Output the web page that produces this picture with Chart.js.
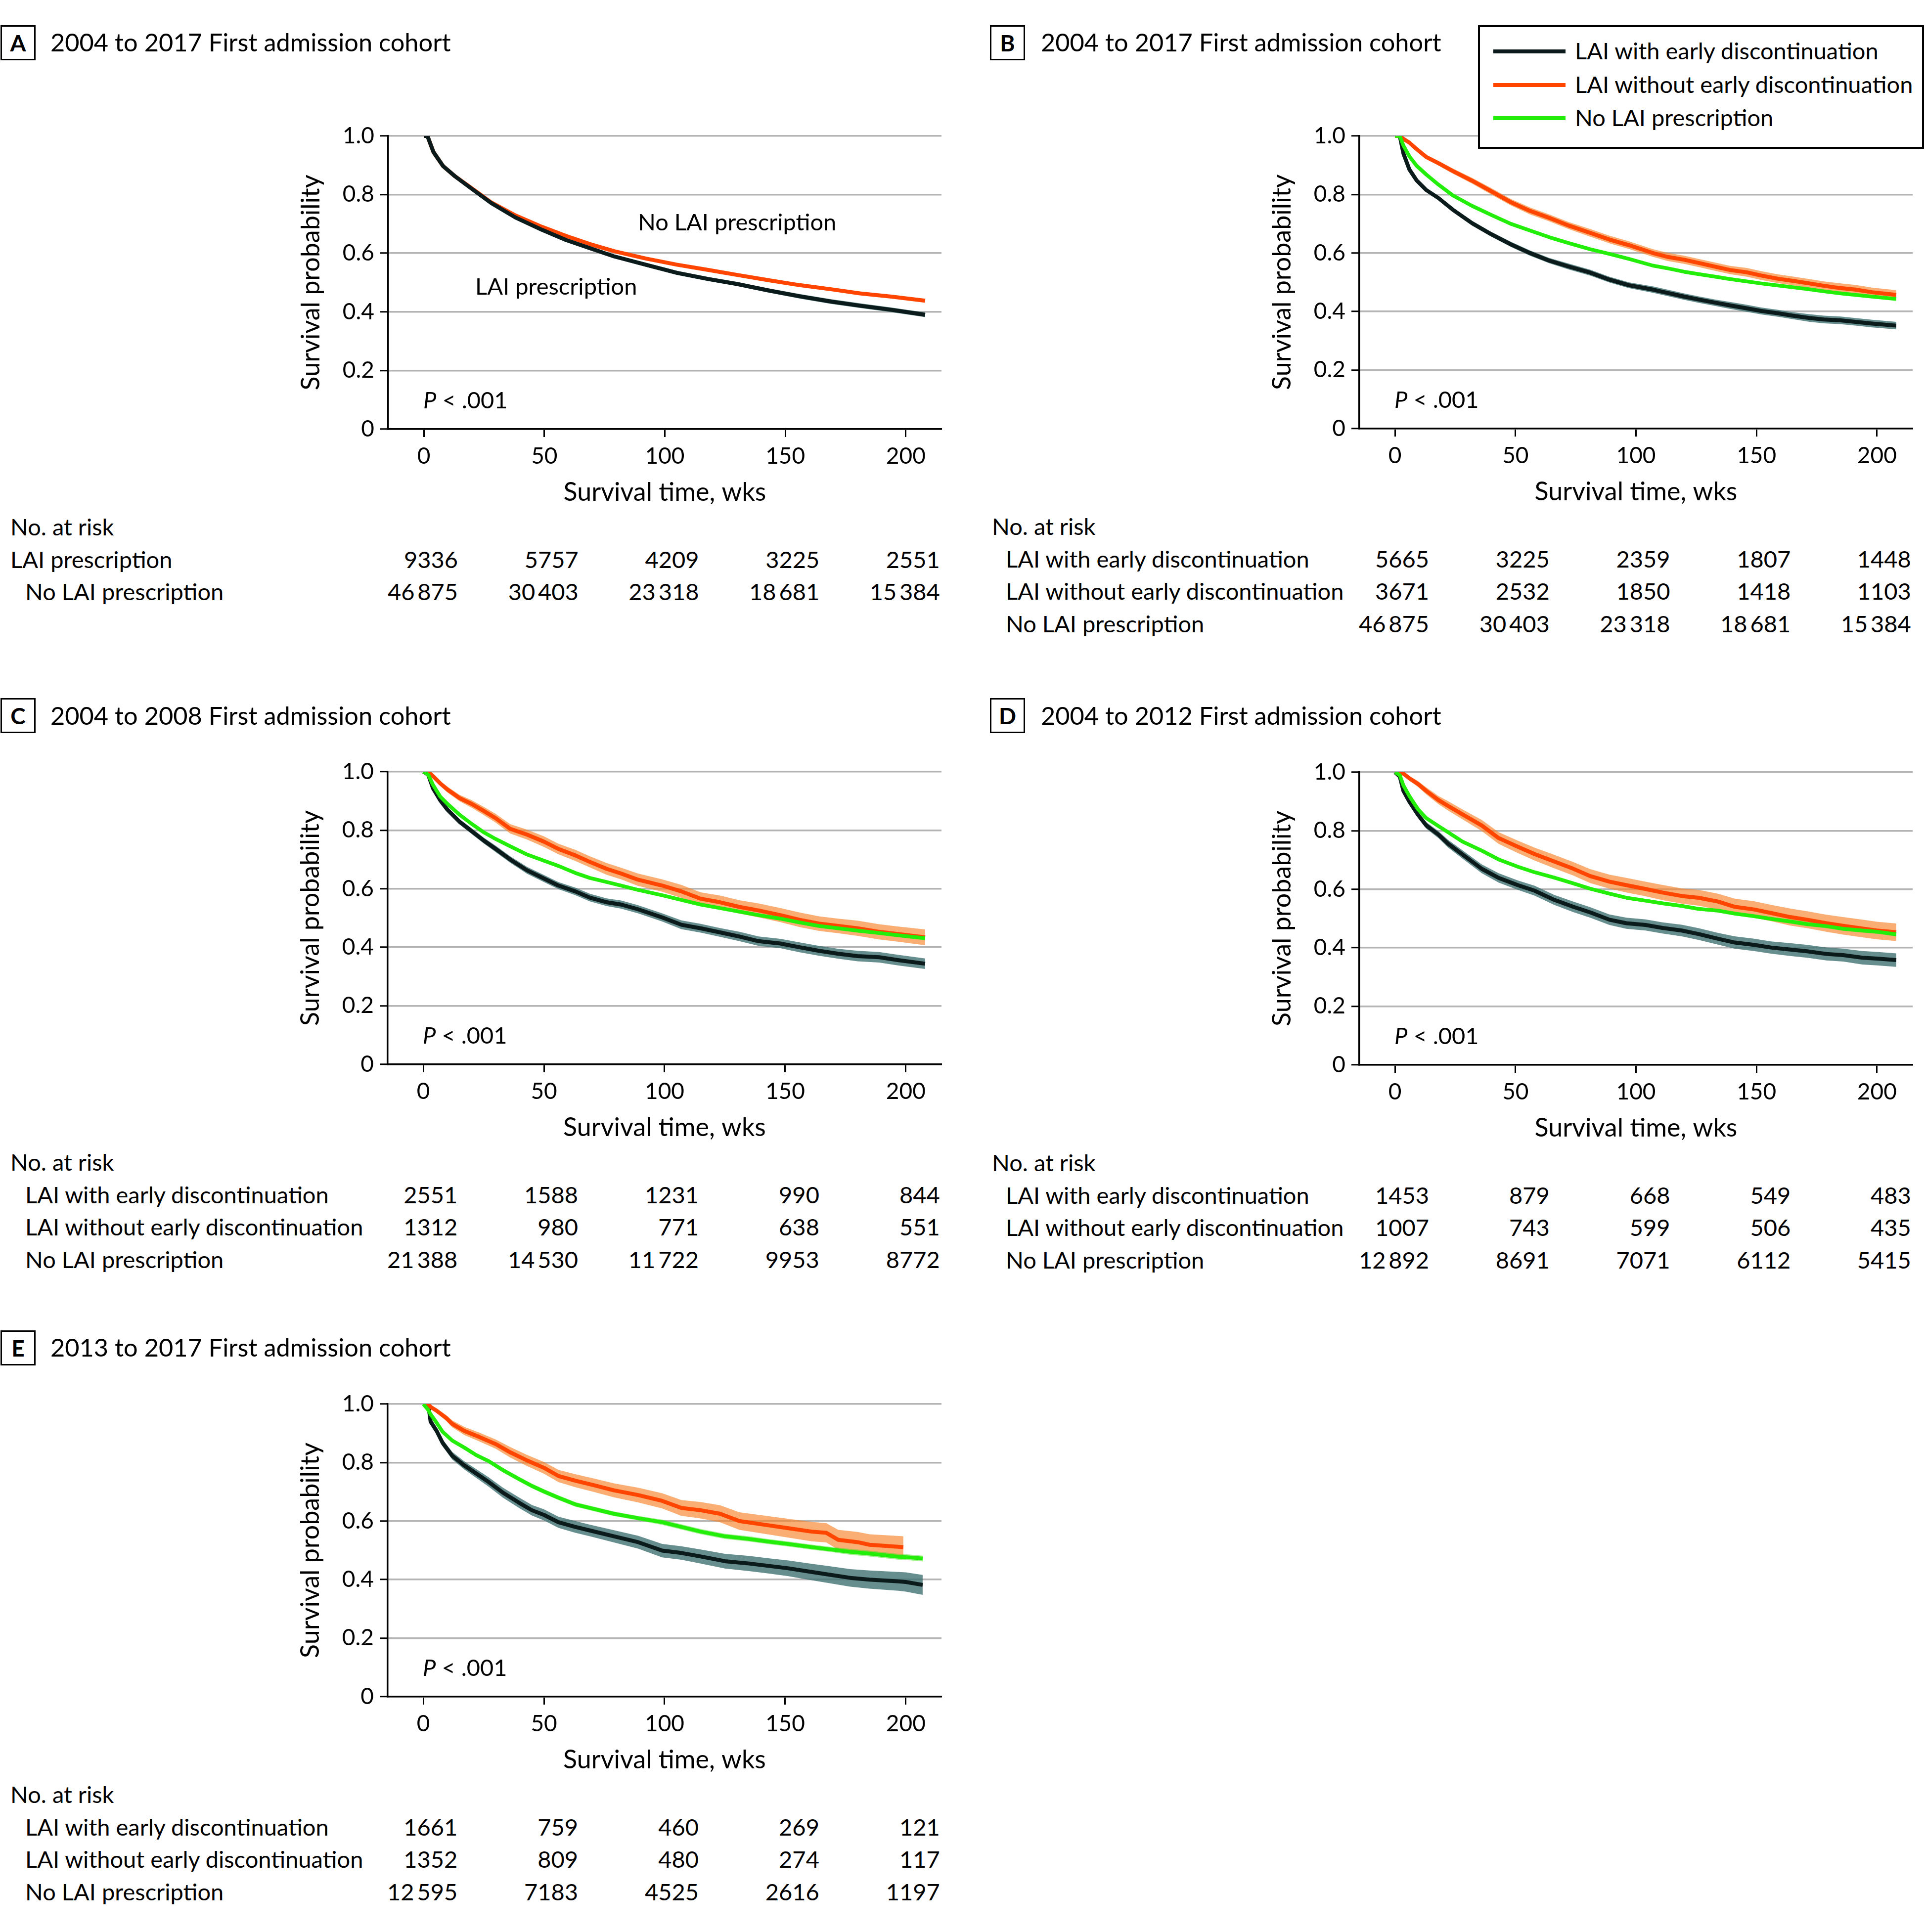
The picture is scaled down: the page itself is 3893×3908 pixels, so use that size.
<!DOCTYPE html>
<html><head><meta charset="utf-8">
<script src="https://cdn.jsdelivr.net/npm/chart.js"></script>
<style>
html,body{margin:0;padding:0;background:#fff;}
body{width:3893px;height:3908px;position:relative;overflow:hidden;font-family:Lato,"Open Sans",sans-serif;color:#000;}
.t{position:absolute;white-space:nowrap;line-height:1;z-index:5;}
.box{position:absolute;border:3px solid #000;box-sizing:border-box;display:flex;align-items:center;justify-content:center;font-weight:700;font-size:46px;line-height:1;background:#fff;z-index:5;}
.wrap{position:absolute;}
.legend{position:absolute;border:4px solid #000;box-sizing:border-box;background:#fff;z-index:6;}
.lline{position:absolute;height:8px;z-index:7;}
</style></head><body>
<script>
// ---------- tick values ----------
const X_TICKS = [0, 50, 100, 150, 200];
const Y_TICKS = [0, 0.2, 0.4, 0.6, 0.8, 1.0];

// ---------- Panel A ----------
const A_weeks  = [0,1.5,4,8,13,21,28,38,49,59,69,79,92,105,118,130,143,156,169,181,194,208];
const A_lai    = [1,1,0.945,0.897,0.862,0.813,0.771,0.722,0.680,0.645,0.617,0.589,0.561,0.533,0.512,0.495,0.473,0.453,0.435,0.421,0.407,0.390];
const A_laiCI  = [0,0,.003,.004,.004,.005,.005,.005,.006,.006,.006,.006,.007,.007,.007,.007,.007,.008,.008,.008,.008,.008];
const A_noLai  = [1,1,0.945,0.897,0.862,0.815,0.773,0.729,0.690,0.659,0.631,0.607,0.582,0.561,0.543,0.526,0.508,0.491,0.477,0.463,0.452,0.438];
const A_riskLai   = [9336, 5757, 4209, 3225, 2551];
const A_riskNoLai = [46875, 30403, 23318, 18681, 15384];

// ---------- Panel B ----------
const B_weeks   = [0,2,3.5,6,9,13,18,24,32,40,48,56,64,72,81,89,97,107,113,120,126,133,139,146,152,159,165,172,178,185,191,198,208];
const B_early   = [1,1,0.94,0.885,0.848,0.815,0.788,0.748,0.702,0.664,0.630,0.600,0.574,0.554,0.533,0.509,0.490,0.475,0.464,0.451,0.441,0.430,0.421,0.411,0.402,0.394,0.386,0.378,0.373,0.370,0.365,0.359,0.352];
const B_earlyCI = [0,0,.004,.005,.006,.006,.007,.007,.008,.008,.009,.009,.009,.010,.010,.010,.010,.011,.011,.011,.011,.011,.012,.012,.012,.012,.012,.013,.013,.013,.013,.013,.013];
const B_noEarly   = [1,1,0.99,0.977,0.955,0.928,0.907,0.880,0.847,0.811,0.774,0.744,0.720,0.694,0.669,0.646,0.627,0.600,0.587,0.577,0.566,0.553,0.542,0.534,0.523,0.512,0.505,0.496,0.488,0.480,0.475,0.466,0.457];
const B_noEarlyCI = [0,0,.003,.005,.006,.007,.008,.009,.010,.011,.011,.012,.012,.012,.013,.013,.013,.013,.014,.014,.014,.014,.014,.015,.015,.015,.015,.015,.015,.016,.016,.016,.016];
const B_noLai   = [1,1,0.967,0.930,0.898,0.868,0.834,0.797,0.761,0.730,0.700,0.677,0.654,0.634,0.613,0.597,0.580,0.557,0.548,0.536,0.528,0.519,0.511,0.503,0.496,0.489,0.483,0.476,0.469,0.462,0.457,0.451,0.443];
const B_noLaiCI = [0,0,.002,.002,.003,.003,.003,.003,.003,.003,.003,.003,.003,.003,.003,.003,.003,.004,.004,.004,.004,.004,.004,.004,.004,.004,.004,.004,.004,.004,.004,.004,.004];
const B_riskEarly   = [5665, 3225, 2359, 1807, 1448];
const B_riskNoEarly = [3671, 2532, 1850, 1418, 1103];
const B_riskNoLai   = [46875, 30403, 23318, 18681, 15384];

// ---------- Panel C ----------
const C_weeks   = [0,2,4,7,10,15,20,25,30,36,43,50,56,63,69,76,82,89,99,107,115,123,131,139,148,156,164,172,180,189,197,208];
const C_early   = [1,0.99,0.943,0.902,0.870,0.829,0.797,0.765,0.736,0.700,0.663,0.635,0.611,0.591,0.570,0.554,0.546,0.530,0.502,0.477,0.465,0.451,0.437,0.421,0.413,0.400,0.388,0.378,0.370,0.366,0.356,0.344];
const C_earlyCI = [0,0,.005,.007,.008,.009,.010,.010,.011,.011,.012,.012,.012,.013,.013,.013,.014,.014,.014,.015,.015,.015,.016,.016,.016,.017,.017,.017,.018,.018,.018,.018];
const C_noEarly   = [1,1,0.985,0.960,0.939,0.910,0.890,0.866,0.841,0.805,0.785,0.761,0.736,0.714,0.692,0.668,0.652,0.631,0.611,0.591,0.566,0.554,0.538,0.526,0.510,0.494,0.481,0.473,0.465,0.453,0.445,0.434];
const C_noEarlyCI = [0,0,.006,.008,.010,.011,.013,.014,.015,.016,.017,.018,.018,.019,.019,.020,.020,.021,.021,.022,.022,.023,.023,.024,.024,.025,.025,.025,.026,.026,.026,.027];
const C_noLai   = [1,0.99,0.955,0.915,0.890,0.853,0.822,0.793,0.770,0.745,0.717,0.696,0.678,0.654,0.637,0.623,0.611,0.596,0.578,0.562,0.546,0.534,0.522,0.510,0.498,0.485,0.473,0.465,0.457,0.449,0.441,0.431];
const C_noLaiCI = [0,.002,.003,.003,.004,.004,.004,.004,.004,.004,.004,.005,.005,.005,.005,.005,.005,.005,.005,.005,.005,.005,.005,.006,.006,.006,.006,.006,.006,.006,.006,.006];
const C_riskEarly   = [2551, 1588, 1231, 990, 844];
const C_riskNoEarly = [1312, 980, 771, 638, 551];
const C_riskNoLai   = [21388, 14530, 11722, 9953, 8772];

// ---------- Panel D ----------
const D_weeks   = [0,2,3.5,6,9.5,13,18,22,28,36,43,51,58,66,74,81,89,96,104,111,119,126,134,141,149,156,164,171,179,186,194,200,208];
const D_early   = [1,0.985,0.936,0.899,0.855,0.818,0.787,0.756,0.719,0.670,0.639,0.614,0.595,0.564,0.540,0.521,0.496,0.484,0.478,0.468,0.459,0.447,0.431,0.418,0.410,0.401,0.394,0.388,0.379,0.375,0.366,0.363,0.358];
const D_earlyCI = [0,0,.006,.008,.010,.011,.012,.013,.014,.015,.016,.016,.017,.017,.018,.018,.018,.019,.019,.019,.020,.020,.020,.021,.021,.021,.022,.022,.022,.022,.023,.023,.023];
const D_noEarly   = [1,1,0.995,0.979,0.960,0.936,0.905,0.885,0.856,0.818,0.775,0.745,0.720,0.695,0.670,0.645,0.626,0.614,0.601,0.589,0.577,0.571,0.558,0.540,0.531,0.519,0.505,0.496,0.484,0.475,0.466,0.459,0.453];
const D_noEarlyCI = [0,0,.004,.008,.010,.012,.014,.016,.017,.019,.020,.021,.022,.023,.023,.024,.024,.025,.025,.026,.026,.027,.027,.028,.028,.028,.029,.029,.029,.030,.030,.030,.030];
const D_noLai   = [1,0.99,0.955,0.918,0.874,0.843,0.816,0.795,0.763,0.732,0.702,0.677,0.658,0.640,0.620,0.602,0.585,0.571,0.561,0.552,0.543,0.533,0.527,0.517,0.508,0.499,0.490,0.481,0.474,0.465,0.459,0.455,0.446];
const D_noLaiCI = [0,.002,.003,.004,.004,.004,.005,.005,.005,.005,.005,.005,.005,.005,.006,.006,.006,.006,.006,.006,.006,.006,.006,.006,.006,.007,.007,.007,.007,.007,.007,.007,.007];
const D_riskEarly   = [1453, 879, 668, 549, 483];
const D_riskNoEarly = [1007, 743, 599, 506, 435];
const D_riskNoLai   = [12892, 8691, 7071, 6112, 5415];

// ---------- Panel E ----------
const E_weeks   = [0,2,3,5.5,8,12,17,22,27,33,40,45,50,56,63,69,79,89,99,107,115,125,135,143,151,161,169,177,185,197,200,207];
const E_early   = [1,1,0.94,0.908,0.867,0.823,0.790,0.762,0.734,0.697,0.661,0.637,0.621,0.596,0.580,0.568,0.548,0.528,0.499,0.491,0.479,0.463,0.455,0.447,0.439,0.426,0.416,0.406,0.400,0.394,0.392,0.382];
const E_earlyCI = [0,0,.008,.010,.012,.013,.014,.015,.016,.017,.018,.018,.019,.019,.020,.020,.021,.022,.023,.023,.024,.025,.026,.026,.027,.028,.029,.030,.031,.032,.033,.034];
const E_noLai   = [1,0.98,0.965,0.936,0.905,0.875,0.851,0.825,0.805,0.774,0.742,0.720,0.701,0.680,0.657,0.645,0.625,0.610,0.596,0.580,0.564,0.548,0.539,0.530,0.522,0.511,0.503,0.495,0.489,0.478,0.477,0.472];
const E_noLaiCI = [0,.002,.004,.005,.006,.006,.007,.007,.007,.008,.008,.008,.008,.008,.008,.008,.008,.008,.009,.009,.009,.009,.009,.009,.009,.009,.009,.010,.010,.010,.010,.010];
const E_noEarlyWeeks = [0,2,3,5.5,9.5,12,17,23,30,36,43,50,56,63,71,79,89,99,107,115,123,131,141,151,161,167,172,180,185,199];
const E_noEarly   = [1,1,0.99,0.977,0.952,0.932,0.908,0.888,0.863,0.835,0.807,0.782,0.754,0.738,0.722,0.705,0.689,0.669,0.645,0.637,0.625,0.600,0.588,0.576,0.564,0.560,0.536,0.528,0.519,0.511];
const E_noEarlyCI = [0,0,.004,.008,.010,.012,.014,.015,.016,.018,.019,.020,.021,.022,.023,.024,.025,.026,.027,.028,.029,.030,.031,.032,.033,.033,.034,.035,.036,.037];
const E_riskEarly   = [1661, 759, 460, 269, 121];
const E_riskNoEarly = [1352, 809, 480, 274, 117];
const E_riskNoLai   = [12595, 7183, 4525, 2616, 1197];

// ---------- labels ----------
const LBL_EARLY = 'LAI with early discontinuation';
const LBL_NOEARLY = 'LAI without early discontinuation';
const LBL_NOLAI = 'No LAI prescription';
const LBL_LAI = 'LAI prescription';

// ---------- styles ----------
const STY = {
  black:  {line:'#0b1a1a', band:'rgba(60,110,110,0.78)', width:8,   order:3, bandOrder:12},
  orange: {line:'#ff4500', band:'rgba(248,130,40,0.65)', width:8,   order:2, bandOrder:11},
  green:  {line:'#22ee0a', band:'rgba(60,220,20,0.45)',  width:7.5, order:1, bandOrder:10},
};

const PANELS = [
  {id:'A', title:'2004 to 2017 First admission cohort', L:785, R:1904, T:275, B:868,
   boxX:1, boxTop:51, titleX:102, titleYc:87, riskX:21, rowX:51,
   series:[
     {w:A_weeks, v:A_lai, ci:A_laiCI, s:'black', order:0},
     {w:A_weeks, v:A_noLai, ci:null, s:'orange'}],
   risk:[{label:LBL_LAI, vals:A_riskLai, x:21}, {label:LBL_NOLAI, vals:A_riskNoLai}],
   notes:[{html:LBL_NOLAI, x:1290, yc:450}, {html:LBL_LAI, x:961, yc:580}]},
  {id:'B', title:'2004 to 2017 First admission cohort', L:2749, R:3868, T:275, B:867,
   boxX:2002, boxTop:51, titleX:2105, titleYc:87, riskX:2006, rowX:2034, legend:true,
   series:[
     {w:B_weeks, v:B_early, ci:B_earlyCI, s:'black'},
     {w:B_weeks, v:B_noEarly, ci:B_noEarlyCI, s:'orange'},
     {w:B_weeks, v:B_noLai, ci:B_noLaiCI, s:'green'}],
   risk:[{label:LBL_EARLY, vals:B_riskEarly}, {label:LBL_NOEARLY, vals:B_riskNoEarly}, {label:LBL_NOLAI, vals:B_riskNoLai}]},
  {id:'C', title:'2004 to 2008 First admission cohort', L:784, R:1904, T:1561, B:2153,
   boxX:1, boxTop:1412, titleX:102, titleYc:1449, riskX:21, rowX:51,
   series:[
     {w:C_weeks, v:C_early, ci:C_earlyCI, s:'black'},
     {w:C_weeks, v:C_noEarly, ci:C_noEarlyCI, s:'orange'},
     {w:C_weeks, v:C_noLai, ci:C_noLaiCI, s:'green'}],
   risk:[{label:LBL_EARLY, vals:C_riskEarly}, {label:LBL_NOEARLY, vals:C_riskNoEarly}, {label:LBL_NOLAI, vals:C_riskNoLai}]},
  {id:'D', title:'2004 to 2012 First admission cohort', L:2749, R:3868, T:1562, B:2154,
   boxX:2002, boxTop:1412, titleX:2105, titleYc:1449, riskX:2006, rowX:2034,
   series:[
     {w:D_weeks, v:D_early, ci:D_earlyCI, s:'black'},
     {w:D_weeks, v:D_noEarly, ci:D_noEarlyCI, s:'orange'},
     {w:D_weeks, v:D_noLai, ci:D_noLaiCI, s:'green'}],
   risk:[{label:LBL_EARLY, vals:D_riskEarly}, {label:LBL_NOEARLY, vals:D_riskNoEarly}, {label:LBL_NOLAI, vals:D_riskNoLai}]},
  {id:'E', title:'2013 to 2017 First admission cohort', L:784, R:1904, T:2840, B:3432,
   boxX:1, boxTop:2691, titleX:102, titleYc:2727, riskX:21, rowX:51,
   series:[
     {w:E_weeks, v:E_early, ci:E_earlyCI, s:'black'},
     {w:E_noEarlyWeeks, v:E_noEarly, ci:E_noEarlyCI, s:'orange'},
     {w:E_weeks, v:E_noLai, ci:E_noLaiCI, s:'green'}],
   risk:[{label:LBL_EARLY, vals:E_riskEarly}, {label:LBL_NOEARLY, vals:E_riskNoEarly}, {label:LBL_NOLAI, vals:E_riskNoLai}]},
];

Chart.defaults.font.family = 'Lato';
Chart.defaults.color = '#000';

function fmt(n){
  const s = String(n);
  return n >= 10000 ? s.slice(0, s.length-3) + '\u2009' + s.slice(-3) : s;
}

function text(str, x, yc, size, opt){
  opt = opt || {};
  const d = document.createElement('div');
  d.className = 't';
  d.style.fontSize = size + 'px';
  d.style.top = (yc - 0.529*size) + 'px';
  d.style.left = x + 'px';
  if (opt.right) d.style.transform = 'translateX(-100%)';
  if (opt.weight) d.style.fontWeight = opt.weight;
  d.innerHTML = str;
  document.body.appendChild(d);
  return d;
}

function buildDatasets(p){
  const ds = [];
  p.series.forEach(se => {
    if (!se.ci) return;
    const st = STY[se.s];
    ds.push({data: se.w.map((w,i)=>({x:w, y:se.v[i]+se.ci[i]})), borderWidth:0, pointRadius:0, fill:false, order:st.bandOrder, backgroundColor:st.band, borderColor:'rgba(0,0,0,0)'});
    ds.push({data: se.w.map((w,i)=>({x:w, y:se.v[i]-se.ci[i]})), borderWidth:0, pointRadius:0, fill:'-1', order:st.bandOrder, backgroundColor:st.band, borderColor:'rgba(0,0,0,0)'});
  });
  p.series.forEach(se => {
    const st = STY[se.s];
    ds.push({data: se.w.map((w,i)=>({x:w, y:se.v[i]})), borderWidth:st.width, borderColor:st.line, pointRadius:0, fill:false,
             order: se.order !== undefined ? se.order : st.order, tension:0});
  });
  return ds;
}

function config(p){
  return {
    type:'line',
    data:{datasets: buildDatasets(p)},
    options:{
      responsive:false, maintainAspectRatio:false, animation:false, devicePixelRatio:1,
      layout:{padding:{left:0, top:40, right:10, bottom:0}},
      plugins:{legend:{display:false}, tooltip:{enabled:false}},
      elements:{point:{radius:0}, line:{tension:0, borderJoinStyle:'round'}},
      scales:{
        x:{type:'linear', min:-14.8, max:214.8,
          afterBuildTicks: s => { s.ticks = X_TICKS.map(v=>({value:v})); },
          afterFit: s => { s.height = 160; },
          grid:{drawOnChartArea:false, drawTicks:true, tickLength:16, tickWidth:3, tickColor:'#000'},
          border:{display:true, color:'#000', width:3.5},
          ticks:{color:'#000', font:{size:46}, padding:12, maxRotation:0, autoSkip:false, callback: v => String(v)},
          title:{display:true, text:'Survival time, wks', color:'#000', font:{size:52}, padding:{top:0, bottom:1}}
        },
        y:{type:'linear', min:0, max:1,
          afterBuildTicks: s => { s.ticks = Y_TICKS.map(v=>({value:v})); },
          afterFit: s => { s.width = 200; },
          grid:{color:'#b4b4b4', lineWidth:3.5, drawTicks:true, tickLength:16, tickWidth:3, tickColor:'#000'},
          border:{display:true, color:'#000', width:3.5},
          ticks:{color:'#000', font:{size:46}, padding:12, autoSkip:false, callback: v => v === 0 ? '0' : Number(v).toFixed(1)},
          title:{display:true, text:'Survival probability', color:'#000', font:{size:52}, padding:{top:13, bottom:0}}
        }
      }
    }
  };
}

function makeChart(p, W, H){
  const wrap = document.createElement('div');
  wrap.className = 'wrap';
  wrap.style.width = W + 'px'; wrap.style.height = H + 'px';
  wrap.style.left = '0px'; wrap.style.top = '0px';
  const cv = document.createElement('canvas');
  cv.width = W; cv.height = H;
  cv.style.width = W + 'px'; cv.style.height = H + 'px';
  wrap.appendChild(cv);
  document.body.appendChild(wrap);
  const chart = new Chart(cv, config(p));
  return {wrap, chart};
}

PANELS.forEach(p => {
  let W = 200 + (p.R - p.L) + 10, H = 40 + (p.B - p.T) + 160;
  let r = makeChart(p, W, H);
  let ca = r.chart.chartArea;
  const dw = (p.R - p.L) - (ca.right - ca.left), dh = (p.B - p.T) - (ca.bottom - ca.top);
  if (Math.abs(dw) > 0.5 || Math.abs(dh) > 0.5){
    r.chart.destroy(); r.wrap.remove();
    r = makeChart(p, Math.round(W + dw), Math.round(H + dh));
    ca = r.chart.chartArea;
  }
  const offX = p.L - ca.left, offY = p.T - ca.top;
  r.wrap.style.left = offX + 'px';
  r.wrap.style.top = offY + 'px';
  const xs = r.chart.scales.x;

  // panel title
  const b = document.createElement('div');
  b.className = 'box';
  b.style.left = p.boxX + 'px'; b.style.top = p.boxTop + 'px';
  b.style.width = '71px'; b.style.height = '71px';
  b.textContent = p.id;
  document.body.appendChild(b);
  text(p.title, p.titleX, p.titleYc, 50.5);

  // P value
  text('<i>P</i> &lt; .001', p.L + 71, p.B - 58, 47);

  // curve notes
  (p.notes || []).forEach(n => text(n.html, n.x, n.yc, 47));

  // risk table
  text('No. at risk', p.riskX, p.B + 199, 47);
  const rowY = [p.B + 265, p.B + 330, p.B + 396];
  p.risk.forEach((row, i) => {
    const lx = row.x !== undefined ? row.x : p.rowX;
    text(row.label, lx, rowY[i], 47);
    row.vals.forEach((n, k) => {
      const px = offX + xs.getPixelForValue(X_TICKS[k]);
      text(fmt(n), px + 69, rowY[i], 47, {right:true});
    });
  });

  // legend
  if (p.legend){
    const lg = document.createElement('div');
    lg.className = 'legend';
    lg.style.left = '2989px'; lg.style.top = '51px';
    lg.style.width = '902px'; lg.style.height = '250px';
    document.body.appendChild(lg);
    const items = [[LBL_EARLY, STY.black.line, 104], [LBL_NOEARLY, STY.orange.line, 172], [LBL_NOLAI, STY.green.line, 239]];
    items.forEach(it => {
      const ln = document.createElement('div');
      ln.className = 'lline';
      ln.style.left = '3020px'; ln.style.width = '146px';
      ln.style.top = (it[2] - 4) + 'px';
      ln.style.background = it[1];
      document.body.appendChild(ln);
      const t = text(it[0], 3185, it[2], 47);
      t.style.zIndex = 7;
    });
  }
});
</script>
</body></html>
